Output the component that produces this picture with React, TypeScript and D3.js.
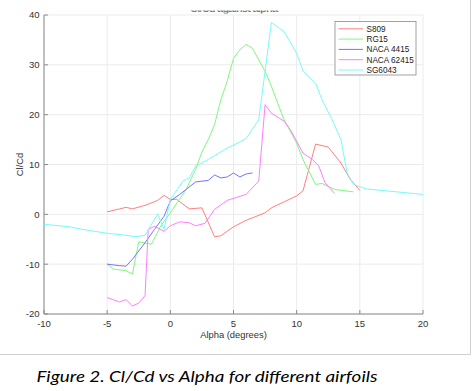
import React from "react"
import * as d3 from "d3"

// Data
const xTicks = [-10, -5, 0, 5, 10, 15, 20]
const yTicks = [-20, -10, 0, 10, 20, 30, 40]

const s809Alpha = [-5, -4, -3.5, -3, -2, -1, -0.5, 0, 0.5, 1.5, 2.5, 3.5, 4, 5, 6, 7.5, 8, 10, 10.5, 11.5, 12.5, 13.5, 14.25, 15]
const s809Ratio = [0.5, 1.1, 1.4, 1.1, 1.8, 2.8, 3.8, 3.0, 3.0, 1.1, 1.3, -4.5, -4.3, -2.5, -1.2, 0.3, 1.3, 3.7, 4.7, 14.1, 13.5, 10.3, 7, 4.8]

const rg15Alpha = [-5, -4.5, -3.5, -3, -2.5, -1.5, -0.75, 0, 1.25, 2, 2.5, 3, 3.5, 4, 4.5, 5, 5.5, 6, 6.5, 7, 7.5, 8, 8.5, 9, 10, 10.5, 11.5, 12, 13, 14.5]
const rg15Ratio = [-10, -11, -11.3, -12, -5.5, -6, -2.3, 0.3, 5, 9, 12.5, 15, 18, 23, 26.7, 31.3, 33, 34.1, 33.3, 31, 28.7, 25.7, 22.3, 19, 14.3, 11, 6, 6.2, 5, 4.5]

const naca4415Alpha = [-5, -4, -3.5, -3, -2, -1.25, -0.5, 0, 0.75, 1.25, 2, 3, 3.5, 4, 4.5, 5, 5.5, 6, 6.5]
const naca4415Ratio = [-10, -10.3, -10.4, -9, -5.7, -3, -0.4, 2.7, 4, 5, 6.5, 6.8, 7.9, 7.3, 7.5, 8.3, 7.5, 8.1, 8.3]

const naca62415Alpha = [-5, -4, -3.5, -3, -2.5, -2, -1.75, -1.25, -0.5, 0, 0.75, 1.5, 2, 2.75, 3.5, 4.5, 6, 7, 7.5, 8, 9, 9.5, 10.5, 11.25, 11.75, 12.25, 13]
const naca62415Ratio = [-16.7, -17.6, -17.1, -18.4, -17.8, -16.3, -3, -2.4, -3.4, -2.3, -1.5, -1.7, -2.3, -1.8, 1, 2.8, 4, 6.7, 22, 20.3, 18.7, 17, 12.3, 11, 9.7, 6.3, 4.2]

const sg6043Alpha = [-10, -8, -7, -5, -3.5, -2.75, -2, -1, -0.5, 0, 1, 1.5, 2, 3, 4.5, 5.5, 6, 7, 8, 9, 10, 10.5, 11.5, 12, 12.75, 13.5, 14, 14.5, 15.5, 20]
const sg6043Ratio = [-2, -2.5, -3, -3.8, -4.2, -4.5, -4.2, 0.1, -3, 3, 6.7, 7.3, 9.7, 11, 13.3, 14.5, 15.2, 19, 38.5, 36.7, 32.3, 28.8, 26.3, 23, 19.3, 15, 8.3, 6, 5.1, 4]

const seriesNames = ["S809", "RG15", "NACA 4415", "NACA 62415", "SG6043"]
const seriesColors = ["#ff7f7f", "#7ef87e", "#7474ff", "#ff7eff", "#78fafa"]

const series = [
  { alpha: s809Alpha, ratio: s809Ratio },
  { alpha: rg15Alpha, ratio: rg15Ratio },
  { alpha: naca4415Alpha, ratio: naca4415Ratio },
  { alpha: naca62415Alpha, ratio: naca62415Ratio },
  { alpha: sg6043Alpha, ratio: sg6043Ratio }
]

export default function App() {
  // Dimensions
  const totalW = 472
  const totalH = 391
  const plot = { left: 44, right: 423, top: 15, bottom: 314 }
  const font = "'Liberation Sans', Arial, sans-serif"

  // Scales
  const x = d3.scaleLinear().domain([-10, 20]).range([plot.left, plot.right])
  const y = d3.scaleLinear().domain([-20, 40]).range([plot.bottom, plot.top])

  const line = d3
    .line<[number, number]>()
    .x(d => x(d[0]))
    .y(d => y(d[1]))

  const legend = { x: 335, y: 21.5, w: 81, h: 53.5, row: 10.3 }

  return (
    <svg
      width={totalW}
      height={totalH}
      style={{ position: "absolute", left: 0, top: 0, background: "#fff" }}
    >
      <defs>
        <clipPath id="title-clip">
          <rect x={0} y={10.5} width={totalW} height={3} />
        </clipPath>
      </defs>

      {/* figure frame */}
      <line x1={0} x2={470.5} y1={354.5} y2={354.5} stroke="#d0d0d0" />
      <line x1={470.5} x2={470.5} y1={0} y2={354.5} stroke="#d0d0d0" />

      {/* title, cropped at the top */}
      <text
        x={234}
        y={12}
        textAnchor="middle"
        fontFamily={font}
        fontSize={11}
        fontWeight="bold"
        fill="#777"
        clipPath="url(#title-clip)"
        textLength={88}
      >
        Cl/Cd against alpha
      </text>

      {/* grid */}
      {xTicks.map(t => (
        <line key={`gx-${t}`} x1={x(t)} x2={x(t)} y1={plot.top} y2={plot.bottom} stroke="#ebebeb" />
      ))}
      {yTicks.map(t => (
        <line key={`gy-${t}`} x1={plot.left} x2={plot.right} y1={y(t)} y2={y(t)} stroke="#ebebeb" />
      ))}

      {/* axes */}
      <line x1={plot.left} x2={plot.left} y1={plot.top} y2={plot.bottom} stroke="#8a8a8a" />
      <line x1={plot.left} x2={plot.right} y1={plot.bottom} y2={plot.bottom} stroke="#8a8a8a" />
      {xTicks.map(t => (
        <g key={`tx-${t}`}>
          <line x1={x(t)} x2={x(t)} y1={plot.bottom} y2={plot.bottom - 4} stroke="#8a8a8a" />
          <text x={x(t)} y={326.5} textAnchor="middle" fontFamily={font} fontSize={9.5} fill="#333">
            {t}
          </text>
        </g>
      ))}
      {yTicks.map(t => (
        <g key={`ty-${t}`}>
          <line x1={plot.left} x2={plot.left + 4} y1={y(t)} y2={y(t)} stroke="#8a8a8a" />
          <text x={39.5} y={y(t) + 3.4} textAnchor="end" fontFamily={font} fontSize={9.5} fill="#333">
            {t}
          </text>
        </g>
      ))}

      <text x={233.5} y={337.5} textAnchor="middle" fontFamily={font} fontSize={9.4} fill="#333">
        Alpha (degrees)
      </text>
      <text
        transform={`translate(22.5, 164.5) rotate(-90)`}
        textAnchor="middle"
        fontFamily={font}
        fontSize={9.4}
        fill="#333"
      >
        Cl/Cd
      </text>

      {/* series */}
      {series.map((s, i) => (
        <path
          key={seriesNames[i]}
          d={line(s.alpha.map((a, j) => [a, s.ratio[j]] as [number, number])) || ""}
          fill="none"
          stroke={seriesColors[i]}
          strokeWidth={1}
          strokeLinejoin="round"
        />
      ))}

      {/* legend */}
      <rect
        x={legend.x}
        y={legend.y}
        width={legend.w}
        height={legend.h}
        fill="#fff"
        stroke="#8a8a8a"
        strokeWidth={0.8}
      />
      {seriesNames.map((name, i) => {
        const ly = legend.y + 7.3 + i * legend.row
        return (
          <g key={`lg-${name}`}>
            <line x1={338.5} x2={363} y1={ly} y2={ly} stroke={seriesColors[i]} />
            <text x={366.5} y={ly + 2.9} fontFamily={font} fontSize={8.2} fill="#222">
              {name}
            </text>
          </g>
        )
      })}

      {/* caption */}
      <text
        x={36.5}
        y={381.5}
        fontFamily="Lato, 'Open Sans', sans-serif"
        fontStyle="italic"
        fontSize={15.5}
        fill="#000"
        textLength={341}
        lengthAdjust="spacingAndGlyphs"
      >
        Figure 2. Cl/Cd vs Alpha for different airfoils
      </text>
    </svg>
  )
}
